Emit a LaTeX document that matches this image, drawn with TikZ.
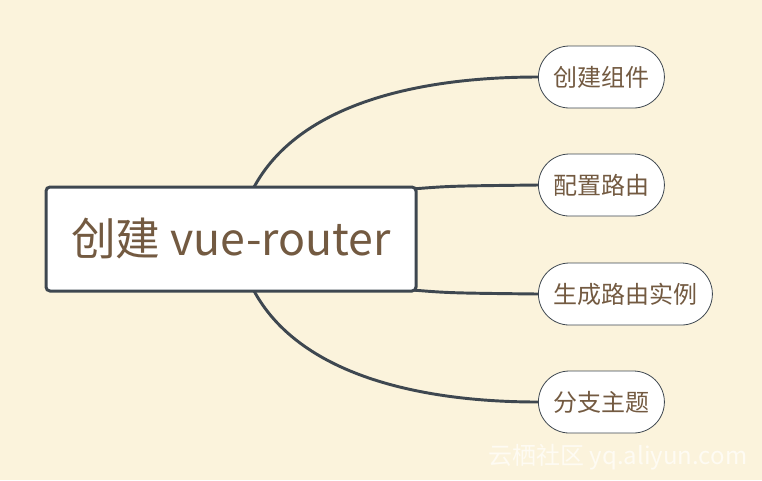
\documentclass[tikz,border=0pt]{standalone}
\usepackage{fontspec}
\setmainfont{Noto Sans CJK SC}
\usetikzlibrary{backgrounds}
\definecolor{bgc}{HTML}{FBF3DC}
\definecolor{txt}{HTML}{735A41}
\definecolor{edge}{HTML}{3E4750}
\definecolor{wm}{HTML}{FEFBF3}
\tikzset{
  central/.style={draw=edge, line width=2.25pt, fill=white, rounded corners=3pt,
    minimum width=277.5pt, minimum height=78pt, text=txt,
    font=\fontsize{33.5pt}{38pt}\selectfont, inner sep=0pt},
  topic/.style={draw=edge, line width=0.6pt, fill=white, rounded corners=23.25pt,
    minimum height=46.5pt, inner xsep=11.25pt, inner ysep=0pt, text=txt,
    font=\fontsize{18pt}{22pt}\selectfont, anchor=west},
  branch/.style={draw=edge, line width=2.2pt}
}
\begin{document}
\begin{tikzpicture}[x=0.75pt,y=-0.75pt]
\useasboundingbox (0,0) rectangle (762,480);
\node[central] (c) at (231,239) {创建 vue-router};
\node[topic] (t1) at (538,77) {创建组件};
\node[topic] (t2) at (538,185) {配置路由};
\node[topic] (t3) at (538,294) {生成路由实例};
\node[topic] (t4) at (538,402) {分支主题};
\node[text=wm, font=\fontsize{18pt}{22pt}\selectfont, anchor=east] (wmk) at (752,457) {云栖社区 yq.aliyun.com};
\coordinate (s1) at (253,189);
\coordinate (s2) at (412,189);
\coordinate (s3) at (412,290);
\coordinate (s4) at (253,289);
\begin{scope}[on background layer]
\fill[bgc] (0,0) rectangle (762,480);
\draw[branch] (s1) .. controls (298,103) and (420,77) .. (t1.west);
\draw[branch] (s2) .. controls (450,186) .. (t2.west);
\draw[branch] (s3) .. controls (450,293) .. (t3.west);
\draw[branch] (s4) .. controls (298,375) and (420,402) .. (t4.west);
\end{scope}
\end{tikzpicture}
\end{document}
